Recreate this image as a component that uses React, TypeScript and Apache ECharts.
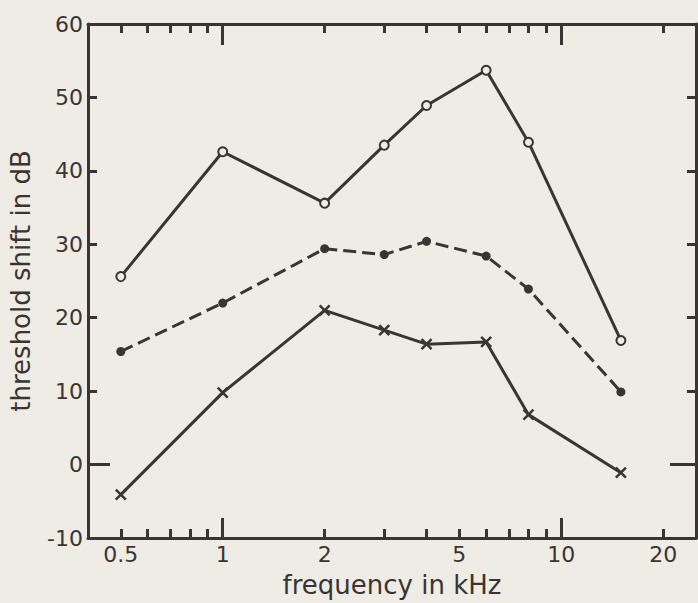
import React, { useEffect, useRef } from "react";
import * as echarts from "echarts";

const frequencies = [0.5, 1, 2, 3, 4, 6, 8, 15];
const solidOpen = [25.6, 42.6, 35.6, 43.5, 48.9, 53.7, 43.9, 16.9];
const dashedFilled = [15.4, 22.0, 29.4, 28.6, 30.4, 28.4, 23.9, 9.9];
const solidCross = [-4.1, 9.8, 21.0, 18.3, 16.4, 16.7, 6.8, -1.1];

const xLabelValues = [0.5, 1, 2, 5, 10, 20];
const xShortTicks = [0.5, 0.6, 0.7, 0.8, 0.9, 2, 3, 4, 5, 6, 7, 8, 9, 20];
const xLongTicks = [1, 10];
const yLongTicks = [0];

const INK = "#3a3532";
const PAPER = "#eeece4";
const FONT = "DejaVu Sans";

const pairs = (ys: number[]) => frequencies.map((f, i) => [f, ys[i]]);

export default function App() {
  const ref = useRef<HTMLDivElement>(null);
  useEffect(() => {
    if (!ref.current) return;
    const chart = echarts.init(ref.current, undefined, { renderer: "svg" });
    const baseX = {
      type: "log" as const,
      min: 0.4,
      max: 25,
      splitLine: { show: false },
      minorTick: { show: false },
      minorSplitLine: { show: false },
    };
    const baseY = {
      type: "value" as const,
      min: -10,
      max: 60,
      interval: 10,
      splitLine: { show: false },
    };
    const line = (show: boolean) => ({ show, onZero: false, lineStyle: { color: INK, width: 3 } });
    chart.setOption({
      animation: false,
      backgroundColor: PAPER,
      grid: { left: 88, right: 2, top: 24, bottom: 62 },
      xAxis: [
        {
          ...baseX,
          position: "bottom",
          name: "frequency in kHz",
          nameLocation: "middle",
          nameGap: 34,
          nameTextStyle: { fontFamily: FONT, fontSize: 26, color: INK },
          axisLine: line(true),
          axisTick: { show: true, inside: true, length: 9, customValues: xShortTicks, lineStyle: { color: INK, width: 3 } },
          axisLabel: {
            show: true,
            customValues: xLabelValues,
            margin: 5,
            fontFamily: FONT,
            fontSize: 22,
            color: INK,
            formatter: (v: number) => String(v),
          },
        },
        {
          ...baseX,
          position: "bottom",
          axisLine: line(false),
          axisTick: { show: true, inside: true, length: 20, customValues: xLongTicks, lineStyle: { color: INK, width: 3 } },
          axisLabel: { show: false },
        },
        {
          ...baseX,
          position: "top",
          axisLine: line(true),
          axisTick: { show: true, inside: true, length: 9, customValues: xShortTicks, lineStyle: { color: INK, width: 3 } },
          axisLabel: { show: false },
        },
        {
          ...baseX,
          position: "top",
          axisLine: line(false),
          axisTick: { show: true, inside: true, length: 21, customValues: xLongTicks, lineStyle: { color: INK, width: 3 } },
          axisLabel: { show: false },
        },
      ],
      yAxis: [
        {
          ...baseY,
          position: "left",
          name: "threshold shift in dB",
          nameLocation: "middle",
          nameGap: 54,
          nameTextStyle: { fontFamily: FONT, fontSize: 26, color: INK },
          axisLine: line(true),
          axisTick: { show: true, inside: true, length: 9, lineStyle: { color: INK, width: 3 } },
          axisLabel: { margin: 5, fontFamily: FONT, fontSize: 22, color: INK },
        },
        {
          ...baseY,
          position: "left",
          axisLine: line(false),
          axisTick: { show: true, inside: true, length: 22, customValues: yLongTicks, lineStyle: { color: INK, width: 3 } },
          axisLabel: { show: false },
        },
        {
          ...baseY,
          position: "right",
          axisLine: line(true),
          axisTick: { show: true, inside: true, length: 9, lineStyle: { color: INK, width: 3 } },
          axisLabel: { show: false },
        },
        {
          ...baseY,
          position: "right",
          axisLine: line(false),
          axisTick: { show: true, inside: true, length: 26, customValues: yLongTicks, lineStyle: { color: INK, width: 3 } },
          axisLabel: { show: false },
        },
      ],
      series: [
        {
          type: "line",
          data: pairs(solidOpen),
          symbol: "circle",
          symbolSize: 9,
          lineStyle: { color: INK, width: 3 },
          itemStyle: { color: PAPER, borderColor: INK, borderWidth: 2 },
          z: 3,
        },
        {
          type: "line",
          data: pairs(dashedFilled),
          symbol: "circle",
          symbolSize: 9,
          lineStyle: { color: INK, width: 3, type: [13, 6] },
          itemStyle: { color: INK, borderColor: INK, borderWidth: 0 },
          z: 3,
        },
        {
          type: "line",
          data: pairs(solidCross),
          symbol: "path://M0,0L10,10M10,0L0,10",
          symbolSize: 10,
          lineStyle: { color: INK, width: 3 },
          itemStyle: { color: "none", borderColor: INK, borderWidth: 2.5 },
          z: 3,
        },
      ],
    });
    return () => chart.dispose();
  }, []);
  return (
    <div
      ref={ref}
      style={{ position: "fixed", left: 0, top: 0, width: 698, height: 603, background: PAPER }}
    />
  );
}
